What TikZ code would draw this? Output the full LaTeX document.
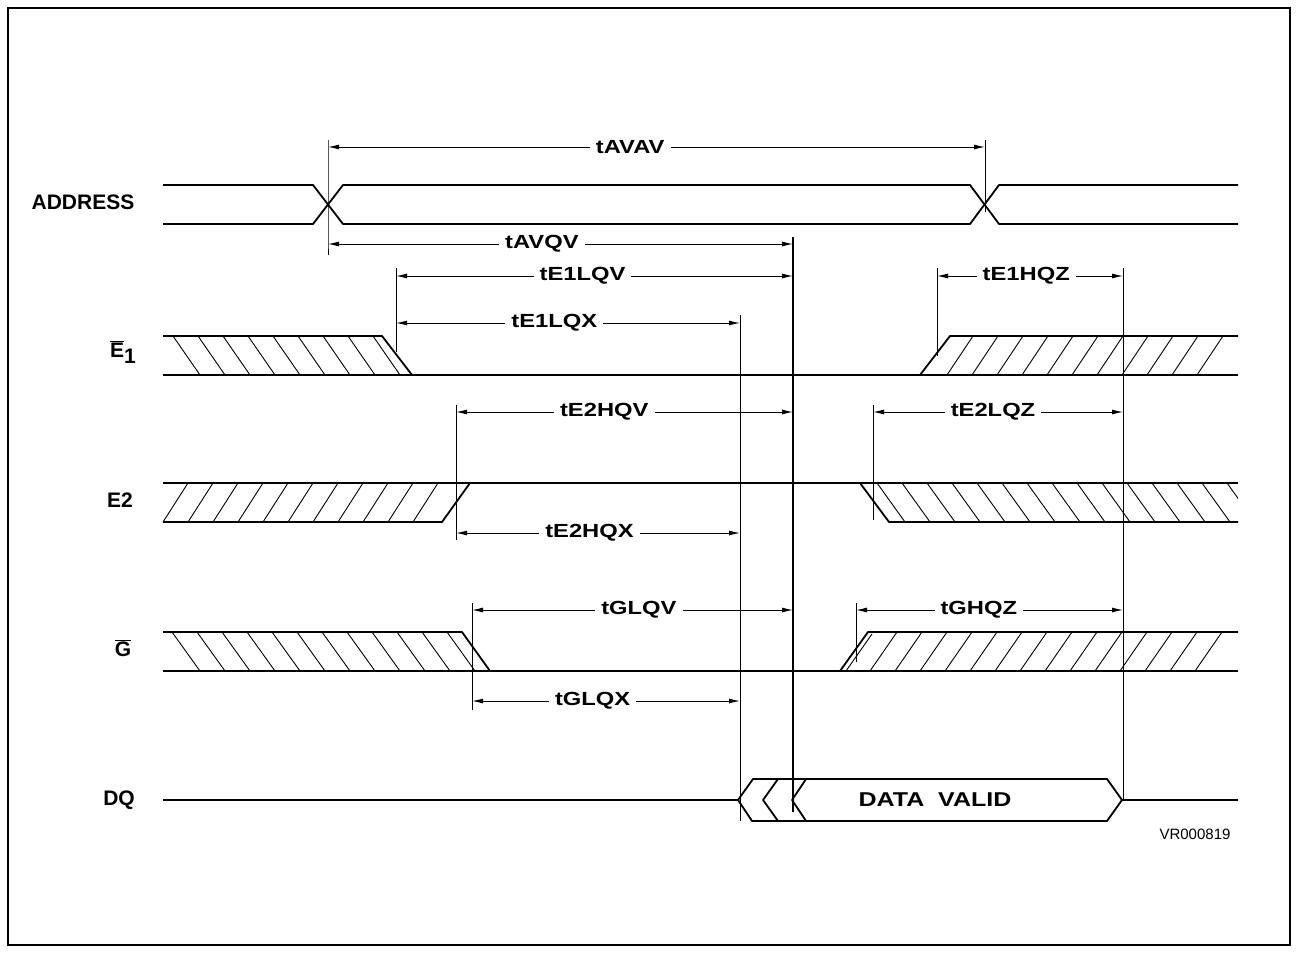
\documentclass[tikz,border=0pt]{standalone}
\usepackage{fontspec}
\setmainfont{Liberation Sans}
\newfontfamily\widefont[FakeStretch=1.25]{Liberation Sans}
\usetikzlibrary{arrows.meta}

\begin{document}
\begin{tikzpicture}[x=1pt, y=-1pt,
	sig/.style = {line width=1.8pt, line join=round},
	hatch/.style = {line width=0.9pt},
	guide/.style = {line width=0.9pt},
	dim/.style = {line width=1pt, {Latex[length=11pt,width=5pt]}-{Latex[length=11pt,width=5pt]}},
	lbl/.style = {fill=white, inner xsep=6pt, inner ysep=1pt, font=\widefont\bfseries\fontsize{19}{20}\selectfont},
	sname/.style = {font=\bfseries\fontsize{21}{22}\selectfont}]
		\useasboundingbox (0,0) rectangle (1298,953);
		\draw[line width=1.5pt] (8,8) rectangle (1290,945);
		\node[sname] (addr) at (83,202) {ADDRESS};
		\node[sname] (eone) at (123,352) {$\overline{\hbox{\bfseries E}}$\raisebox{-6pt}{\bfseries 1}};
		\node[sname] (etwo) at (120,500) {E2};
		\node[sname] (gbar) at (123,648) {$\overline{\hbox{\bfseries G}}$};
		\node[sname] (dq) at (119,800) {DQ};
		\draw[sig] (163,185) -- (313,185) -- (343,224) -- (970,224) -- (999,185) -- (1238,185);
		\draw[sig] (163,224) -- (313,224) -- (343,185) -- (970,185) -- (999,224) -- (1238,224);
		\draw[sig] (163,336) -- (382,336) -- (412,375);
		\draw[sig] (163,375) -- (1238,375);
		\draw[sig] (920,375) -- (950,336) -- (1238,336);
		\foreach \x in {173,198,...,373} \draw[hatch] (\x,336) -- ++(27,39);
		\foreach \x in {947,972,...,1197} \draw[hatch] (\x,375) -- ++(26,-39);
		\draw[sig] (163,483) -- (1238,483);
		\draw[sig] (163,522) -- (442,522) -- (470,483);
		\draw[sig] (860,483) -- (889,522) -- (1238,522);
		\foreach \x in {163,188,...,413} \draw[hatch] (\x,522) -- ++(25,-39);
		\begin{scope}
			\clip (860,480) rectangle (1238,525);
			\foreach \x in {877,902,...,1227} \draw[hatch] (\x,483) -- ++(28,39);
		\end{scope}
		\draw[sig] (163,632) -- (462,632) -- (490,671);
		\draw[sig] (163,671) -- (1238,671);
		\draw[sig] (840,671) -- (868,632) -- (1238,632);
		\draw[hatch] (846,671) -- (872,634);
		\foreach \x in {172,197,...,447} \draw[hatch] (\x,632) -- ++(28,39);
		\foreach \x in {870,895,...,1195} \draw[hatch] (\x,671) -- ++(27,-39);
		\draw[sig] (163,800) -- (738,800);
		\draw[sig] (753,779) -- (1107,779) -- (1122,800) -- (1107,821) -- (752,821) -- (738,800) -- cycle;
		\draw[sig] (778,779) -- (763,800) -- (778,821);
		\draw[sig] (806,779) -- (792,800) -- (806,821);
		\draw[sig] (1122,800) -- (1238,800);
		\node[font=\widefont\bfseries\fontsize{20}{22}\selectfont] (valid) at (935,800) {DATA\ \ VALID};
		\node[font=\fontsize{15}{16}\selectfont] (vr) at (1195,834) {VR000819};
		\coordinate (avav1) at (328,147); \coordinate (avav2) at (985,147);
		\coordinate (avqv1) at (328,244); \coordinate (avqv2) at (793,244);
		\coordinate (e1lqv1) at (396,276); \coordinate (e1lqv2) at (793,276);
		\coordinate (e1hqz1) at (937,276); \coordinate (e1hqz2) at (1123,276);
		\coordinate (e1lqx1) at (396,323); \coordinate (e1lqx2) at (740,323);
		\coordinate (e2hqv1) at (456,412); \coordinate (e2hqv2) at (793,412);
		\coordinate (e2lqz1) at (873,412); \coordinate (e2lqz2) at (1123,412);
		\coordinate (e2hqx1) at (456,533); \coordinate (e2hqx2) at (740,533);
		\coordinate (glqv1) at (472,610); \coordinate (glqv2) at (793,610);
		\coordinate (ghqz1) at (856,610); \coordinate (ghqz2) at (1123,610);
		\coordinate (glqx1) at (472,701); \coordinate (glqx2) at (740,701);
		\draw[guide] (328,140) -- (avqv1) -- (328,255);
		\draw[guide] (985,140) -- (985,212);
		\draw[line width=1.8pt] (793,237) -- (793,812);
		\draw[guide] (396,268) -- (396,352);
		\draw[guide] (937,268) -- (937,356);
		\draw[guide] (1123,268) -- (1123,800);
		\draw[guide] (740,315) -- (740,821);
		\draw[guide] (456,405) -- (456,540);
		\draw[guide] (873,405) -- (873,520);
		\draw[guide] (472,603) -- (472,710);
		\draw[guide] (856,603) -- (856,662);
		\path[dim]
		(avav1) edge node[lbl, pos=0.46] (tavav) {tAVAV} (avav2)
		(avqv1) edge node[lbl, pos=0.46] (tavqv) {tAVQV} (avqv2)
		(e1lqv1) edge node[lbl, pos=0.47] (te1lqv) {tE1LQV} (e1lqv2)
		(e1hqz1) edge node[lbl, pos=0.48] (te1hqz) {tE1HQZ} (e1hqz2)
		(e1lqx1) edge node[lbl, pos=0.46] (te1lqx) {tE1LQX} (e1lqx2)
		(e2hqv1) edge node[lbl, pos=0.44] (te2hqv) {tE2HQV} (e2hqv2)
		(e2lqz1) edge node[lbl, pos=0.48] (te2lqz) {tE2LQZ} (e2lqz2)
		(e2hqx1) edge node[lbl, pos=0.47] (te2hqx) {tE2HQX} (e2hqx2)
		(glqv1) edge node[lbl, pos=0.52] (tglqv) {tGLQV} (glqv2)
		(ghqz1) edge node[lbl, pos=0.46] (tghqz) {tGHQZ} (ghqz2)
		(glqx1) edge node[lbl, pos=0.45] (tglqx) {tGLQX} (glqx2);
	\end{tikzpicture}
\end{document}
